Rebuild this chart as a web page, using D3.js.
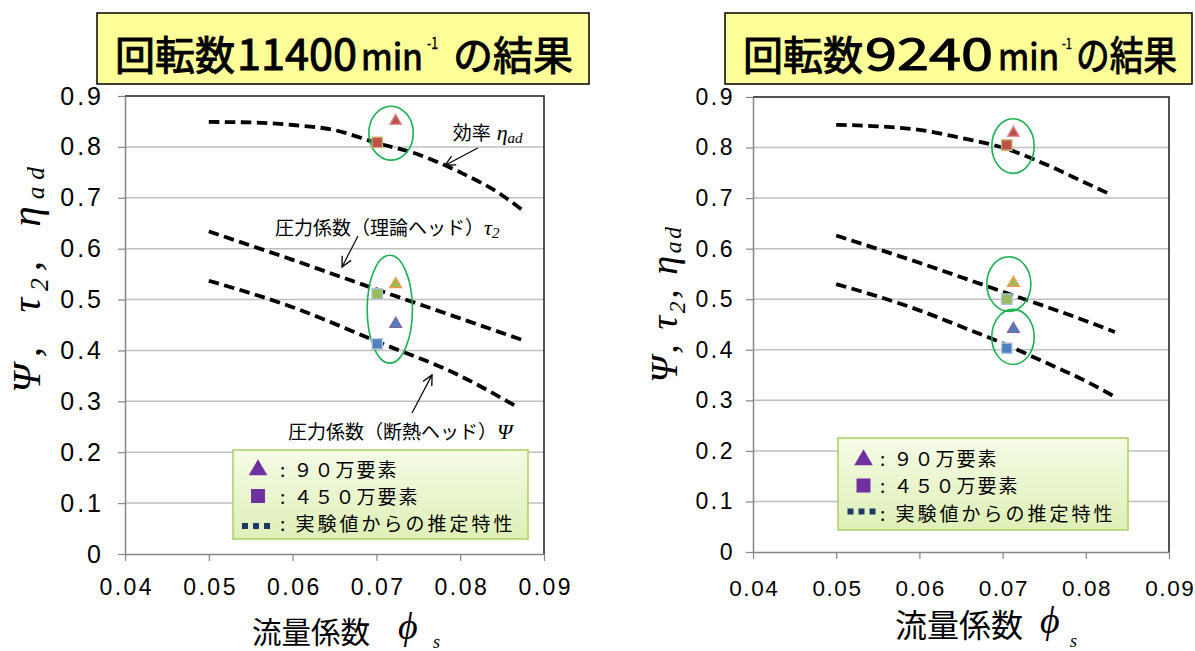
<!DOCTYPE html>
<html>
<head>
<meta charset="utf-8">
<script src="https://cdn.jsdelivr.net/npm/d3@7"></script>
<style>
  html, body { margin: 0; padding: 0; background: #ffffff; }
  svg { display: block; }
</style>
</head>
<body>
<svg id="chart" width="1195" height="651"></svg>
<script>
// ---- axis ticks -------------------------------------------------------
const phiTicks = [0.04, 0.05, 0.06, 0.07, 0.08, 0.09];
const phiTickLabels = ["0.04", "0.05", "0.06", "0.07", "0.08", "0.09"];
const valueTicks = [0, 0.1, 0.2, 0.3, 0.4, 0.5, 0.6, 0.7, 0.8, 0.9];
const valueTickLabels = ["0", "0.1", "0.2", "0.3", "0.4", "0.5", "0.6", "0.7", "0.8", "0.9"];

// order of the quantities: efficiency, theoretical head, adiabatic head
const quantities = ["eta", "tau", "psi"];

// ---- 11400 min-1 : characteristics estimated from experiment -------------
const etaPhi11400 = [0.050, 0.055, 0.060, 0.065, 0.070, 0.075, 0.080, 0.085, 0.0874];
const eta11400    = [0.849, 0.848, 0.843, 0.833, 0.808, 0.785, 0.750, 0.705, 0.676];
const tauPhi11400 = [0.050, 0.060, 0.070, 0.080, 0.0875];
const tau11400    = [0.634, 0.578, 0.520, 0.463, 0.420];
const psiPhi11400 = [0.050, 0.060, 0.070, 0.080, 0.0868];
const psi11400    = [0.537, 0.485, 0.418, 0.350, 0.289];

// 11400 min-1 : CFD results (eta, tau, psi)
const coarsePhi11400 = [0.0723, 0.0723, 0.0723];   // 90万要素
const coarseVal11400 = [0.851, 0.530, 0.452];
const finePhi11400   = [0.0701, 0.0701, 0.0701];   // 450万要素
const fineVal11400   = [0.809, 0.511, 0.413];

// 11400 min-1 : groups circled around the CFD results
const ringPhi11400 = [[0.0691, 0.0744], [0.0689, 0.0743]];
const ringVal11400 = [[0.774, 0.880], [0.375, 0.587]];

// ---- 9240 min-1 : characteristics estimated from experiment --------------
const etaPhi9240 = [0.050, 0.055, 0.060, 0.065, 0.070, 0.075, 0.080, 0.083];
const eta9240    = [0.845, 0.842, 0.835, 0.819, 0.800, 0.768, 0.730, 0.707];
const tauPhi9240 = [0.050, 0.060, 0.070, 0.080, 0.0835];
const tau9240    = [0.626, 0.572, 0.515, 0.457, 0.435];
const psiPhi9240 = [0.050, 0.060, 0.065, 0.070, 0.075, 0.080, 0.0835];
const psi9240    = [0.530, 0.478, 0.446, 0.413, 0.376, 0.338, 0.307];

// 9240 min-1 : CFD results (eta, tau, psi)
const coarsePhi9240 = [0.0713, 0.0713, 0.0713];
const coarseVal9240 = [0.829, 0.532, 0.441];
const finePhi9240   = [0.0705, 0.0705, 0.0705];
const fineVal9240   = [0.805, 0.500, 0.403];

const ringPhi9240 = [[0.0687, 0.0738], [0.0681, 0.0734], [0.0687, 0.0738]];
const ringVal9240 = [[0.749, 0.857], [0.476, 0.584], [0.371, 0.480]];

// ---- styles --------------------------------------------------------------
const markerStyles = {
  eta: { triFill: "#c0504d", triStroke: "#d99694", sqFill: "#c0504d", sqStroke: "#c4bd6e" },
  tau: { triFill: "#9bbb59", triStroke: "#f79646", sqFill: "#9bbb59", sqStroke: "#a9c4e6" },
  psi: { triFill: "#4f81bd", triStroke: "#8064a2", sqFill: "#4f81bd", sqStroke: "#b9cde5" }
};
const CJK = "'Noto Sans CJK JP', 'Noto Sans', sans-serif";
const SERIF = "'Liberation Serif', 'DejaVu Serif', serif";
const SANS = "'Liberation Sans', Arial, sans-serif";

const svg = d3.select("#chart");
const defs = svg.append("defs");

const grad = defs.append("linearGradient").attr("id", "legendFill")
  .attr("x1", 0).attr("y1", 0).attr("x2", 0).attr("y2", 1);
grad.append("stop").attr("offset", "0%").attr("stop-color", "#f5fbe6");
grad.append("stop").attr("offset", "100%").attr("stop-color", "#def0b6");

defs.append("marker").attr("id", "openArrow")
  .attr("viewBox", "0 0 12 12").attr("refX", 11).attr("refY", 6)
  .attr("markerWidth", 12).attr("markerHeight", 12)
  .attr("markerUnits", "userSpaceOnUse").attr("orient", "auto")
  .append("path").attr("d", "M1,1 L11,6 L1,11")
  .attr("fill", "none").attr("stroke", "#000").attr("stroke-width", 1.3);

// ---- panel definitions ----------------------------------------------------
const panels = [
  {
    frame: { left: 125, right: 544, top: 96, bottom: 554 },
    curves: {
      eta: [etaPhi11400, eta11400],
      tau: [tauPhi11400, tau11400],
      psi: [psiPhi11400, psi11400]
    },
    coarse: [coarsePhi11400, coarseVal11400],
    fine: [finePhi11400, fineVal11400],
    rings: [ringPhi11400, ringVal11400],
    yPad: 14, xPad: 18, yTickSize: 25, yTickSpacing: 3, xTickSize: 23, xTickSpacing: 2.5,
    title: {
      box: { x: 97, y: 13, w: 492, h: 71 },
      parts: [
        { text: "回転数", x: 115, w: 120, size: 40, base: 70 },
        { text: "11400", x: 237, w: 120, size: 44, base: 70 },
        { text: "min", x: 361, w: 62, size: 36, base: 70 },
        { text: "-1", x: 427, w: 11, size: 16, base: 49 },
        { text: "の結果", x: 453, w: 120, size: 40, base: 70 }
      ]
    },
    yLabel: { x: 40, yStart: 393, length: 226, size: 41, gap: "\u2002", adjust: "spacing" },
    xLabel: { cjkX: 252, cjkW: 118, cjkSize: 30, base: 643, phiX: 398, phiSize: 38, phiBase: 639, sX: 433, sBase: 648 },
    legend: { x: 233, y: 450, w: 295, h: 89, markX: 258, textX: 280, rows: [477, 504, 531], marks: [469, 496, 526] },
    notes: [
      { text: "効率", sym: "η", sub: "ad", phi: 0.0791, val: 0.8135, symGap: 6 },
      { text: "圧力係数（理論ヘッド）", sym: "τ", sub: "2", phi: 0.0579, val: 0.627, symGap: 0 },
      { text: "圧力係数（断熱ヘッド）", sym: "Ψ", sub: "", phi: 0.05945, val: 0.226, symGap: 0 }
    ],
    arrows: [
      [[0.0821, 0.798], [0.0782, 0.764]],
      [[0.0678, 0.625], [0.0659, 0.564]],
      [[0.07425, 0.277], [0.07664, 0.352]]
    ]
  },
  {
    frame: { left: 753, right: 1169, top: 97, bottom: 552 },
    curves: {
      eta: [etaPhi9240, eta9240],
      tau: [tauPhi9240, tau9240],
      psi: [psiPhi9240, psi9240]
    },
    coarse: [coarsePhi9240, coarseVal9240],
    fine: [finePhi9240, fineVal9240],
    rings: [ringPhi9240, ringVal9240],
    yPad: 11, xPad: 21, yTickSize: 23, yTickSpacing: 2.5, xTickSize: 22.5, xTickSpacing: 1.6,
    title: {
      box: { x: 725, y: 13, w: 467, h: 71 },
      parts: [
        { text: "回転数", x: 743, w: 120, size: 40, base: 70 },
        { text: "9240", x: 865, w: 128, size: 44, base: 70 },
        { text: "min", x: 998, w: 61, size: 36, base: 70 },
        { text: "-1", x: 1062, w: 10, size: 15, base: 49 },
        { text: "の結果", x: 1076, w: 101, size: 40, base: 70 }
      ]
    },
    yLabel: { x: 677, yStart: 383, length: 156, size: 38, gap: " ", adjust: "spacing" },
    xLabel: { cjkX: 895, cjkW: 128, cjkSize: 32, base: 637, phiX: 1040, phiSize: 38, phiBase: 633, sX: 1070, sBase: 647 },
    legend: { x: 838, y: 438, w: 290, h: 92, markX: 863.5, textX: 880, rows: [466, 493, 521], marks: [459, 485.5, 511.5] },
    notes: [],
    arrows: []
  }
];

function drawPanel(p) {
  const f = p.frame;
  const g = svg.append("g");
  const x = d3.scaleLinear().domain([0.04, 0.09]).range([f.left, f.right]);
  const y = d3.scaleLinear().domain([0, 0.9]).range([f.bottom, f.top]);

  // horizontal gridlines
  g.append("g").selectAll("line")
    .data(valueTicks.filter(v => v > 0 && v < 0.9))
    .join("line")
    .attr("x1", f.left).attr("x2", f.right)
    .attr("y1", d => y(d)).attr("y2", d => y(d))
    .attr("stroke", "#bfbfbf").attr("stroke-width", 1.5);

  // plot area border (top and right)
  g.append("path")
    .attr("d", `M${f.left},${y(0.9)} H${f.right} V${f.bottom}`)
    .attr("fill", "none").attr("stroke", "#1a1a1a").attr("stroke-width", 1.5);

  // axes
  const yAxis = d3.axisLeft(y).tickValues(valueTicks).tickSizeInner(7).tickSizeOuter(0)
    .tickPadding(p.yPad).tickFormat((d, i) => valueTickLabels[i]);
  const xAxis = d3.axisBottom(x).tickValues(phiTicks).tickSizeInner(7).tickSizeOuter(0)
    .tickPadding(p.xPad).tickFormat((d, i) => phiTickLabels[i]);

  const ya = g.append("g").attr("transform", `translate(${f.left},0)`).call(yAxis);
  const xa = g.append("g").attr("transform", `translate(0,${f.bottom})`).call(xAxis);
  [ya, xa].forEach(a => {
    a.select(".domain").attr("stroke", "#868686").attr("stroke-width", 1.5);
    a.selectAll(".tick line").attr("stroke", "#868686").attr("stroke-width", 1.2);
    a.selectAll(".tick text").attr("fill", "#000").style("font-family", SANS);
  });
  ya.selectAll(".tick text").style("font-size", p.yTickSize + "px")
    .style("letter-spacing", p.yTickSpacing + "px");
  xa.selectAll(".tick text").style("font-size", p.xTickSize + "px")
    .style("letter-spacing", p.xTickSpacing + "px").attr("dx", (p.xTickSpacing / 2) + "px");

  // estimated characteristic curves
  const line = d3.line().x(d => x(d[0])).y(d => y(d[1])).curve(d3.curveMonotoneX);
  quantities.forEach(q => {
    const [phis, vals] = p.curves[q];
    g.append("path").datum(d3.zip(phis, vals))
      .attr("d", line)
      .attr("fill", "none").attr("stroke", "#000")
      .attr("stroke-width", 3.8).attr("stroke-dasharray", "10.5,5.5");
  });

  // rings around the CFD results
  const [rPhi, rVal] = p.rings;
  rPhi.forEach((ph, i) => {
    const cx = (x(ph[0]) + x(ph[1])) / 2, cy = (y(rVal[i][0]) + y(rVal[i][1])) / 2;
    g.append("ellipse")
      .attr("cx", cx).attr("cy", cy)
      .attr("rx", (x(ph[1]) - x(ph[0])) / 2)
      .attr("ry", (y(rVal[i][0]) - y(rVal[i][1])) / 2)
      .attr("fill", "none").attr("stroke", "#1bb04f").attr("stroke-width", 1.6);
  });

  // CFD markers
  const tri = d3.symbol(d3.symbolTriangle, 60);
  const sq = d3.symbol(d3.symbolSquare, 110);
  quantities.forEach((q, i) => {
    const s = markerStyles[q];
    g.append("path").attr("d", sq())
      .attr("transform", `translate(${x(p.fine[0][i])},${y(p.fine[1][i])})`)
      .attr("fill", s.sqFill).attr("stroke", s.sqStroke).attr("stroke-width", 1.3);
    g.append("path").attr("d", tri())
      .attr("transform", `translate(${x(p.coarse[0][i])},${y(p.coarse[1][i])})`)
      .attr("fill", s.triFill).attr("stroke", s.triStroke).attr("stroke-width", 1.3);
  });

  // annotations
  p.notes.forEach(n => {
    const t = g.append("text").attr("x", x(n.phi)).attr("y", y(n.val))
      .style("font-family", CJK).style("font-size", "19px").attr("fill", "#000");
    t.append("tspan").text(n.text);
    t.append("tspan").attr("dx", n.symGap).style("font-family", SERIF).style("font-style", "italic")
      .style("font-size", "22px").text(n.sym);
    if (n.sub) {
      t.append("tspan").attr("dy", 3).style("font-family", SERIF).style("font-style", "italic")
        .style("font-size", "15px").text(n.sub);
    }
  });
  p.arrows.forEach(a => {
    g.append("line")
      .attr("x1", x(a[0][0])).attr("y1", y(a[0][1]))
      .attr("x2", x(a[1][0])).attr("y2", y(a[1][1]))
      .attr("stroke", "#000").attr("stroke-width", 1.2)
      .attr("marker-end", "url(#openArrow)");
  });

  // title box
  const tb = p.title.box;
  svg.append("rect").attr("x", tb.x).attr("y", tb.y).attr("width", tb.w).attr("height", tb.h)
    .attr("fill", "#ffff99").attr("stroke", "#000").attr("stroke-width", 1.5);
  p.title.parts.forEach(part => {
    svg.append("text").attr("x", part.x).attr("y", part.base)
      .attr("textLength", part.w).attr("lengthAdjust", "spacingAndGlyphs")
      .style("font-family", CJK).style("font-size", part.size + "px")
      .attr("fill", "#000").attr("stroke", "#000")
      .attr("stroke-width", part.size > 20 ? 1.0 : 0.4)
      .text(part.text);
  });

  // y axis title
  const yl = p.yLabel;
  const yt = svg.append("text")
    .attr("transform", `translate(${yl.x},${yl.yStart}) rotate(-90)`)
    .attr("textLength", yl.length).attr("lengthAdjust", yl.adjust)
    .style("font-family", SERIF).style("font-style", "italic").style("font-weight", 400)
    .style("font-size", yl.size + "px").attr("fill", "#000");
  yt.append("tspan").text("Ψ," + yl.gap + "τ");
  yt.append("tspan").attr("dy", yl.size * 0.2).style("font-size", (yl.size * 0.62) + "px").text("2");
  yt.append("tspan").attr("dy", -yl.size * 0.2).text("," + yl.gap + "η");
  yt.append("tspan").attr("dy", yl.size * 0.1).style("font-size", (yl.size * 0.62) + "px").text("ad");

  // x axis title
  const xl = p.xLabel;
  svg.append("text").attr("x", xl.cjkX).attr("y", xl.base)
    .attr("textLength", xl.cjkW).attr("lengthAdjust", "spacingAndGlyphs")
    .style("font-family", CJK).style("font-size", xl.cjkSize + "px").attr("fill", "#000")
    .text("流量係数");
  svg.append("text").attr("x", xl.phiX).attr("y", xl.phiBase)
    .style("font-family", SERIF).style("font-style", "italic")
    .style("font-size", xl.phiSize + "px").attr("fill", "#000").text("ϕ");
  svg.append("text").attr("x", xl.sX).attr("y", xl.sBase)
    .style("font-family", SERIF).style("font-style", "italic")
    .style("font-size", "18px").attr("fill", "#000").text("s");

  // legend
  const lg = p.legend;
  const L = svg.append("g");
  L.append("rect").attr("x", lg.x).attr("y", lg.y).attr("width", lg.w).attr("height", lg.h)
    .attr("fill", "url(#legendFill)").attr("stroke", "#a9cf62").attr("stroke-width", 1.5);
  L.append("path").attr("d", d3.symbol(d3.symbolTriangle, 150)())
    .attr("transform", `translate(${lg.markX},${lg.marks[0] + 1})`).attr("fill", "#7030a0");
  L.append("rect").attr("x", lg.markX - 7).attr("y", lg.marks[1] - 7)
    .attr("width", 14).attr("height", 14).attr("fill", "#7030a0");
  [-13, -2, 9].forEach(dx => {
    L.append("rect").attr("x", lg.markX + dx - 3).attr("y", lg.marks[2] - 3)
      .attr("width", 6).attr("height", 6).attr("fill", "#1f3864");
  });
  const legendLabels = [":  ９０万要素", ":  ４５０万要素", ": 実験値からの推定特性"];
  legendLabels.forEach((txt, i) => {
    L.append("text").attr("x", lg.textX).attr("y", lg.rows[i])
      .style("font-family", CJK).style("font-size", "19px")
      .style("letter-spacing", i === 2 ? "3px" : "2px")
      .attr("fill", "#000").text(txt);
  });
}

panels.forEach(drawPanel);
</script>
</body>
</html>
